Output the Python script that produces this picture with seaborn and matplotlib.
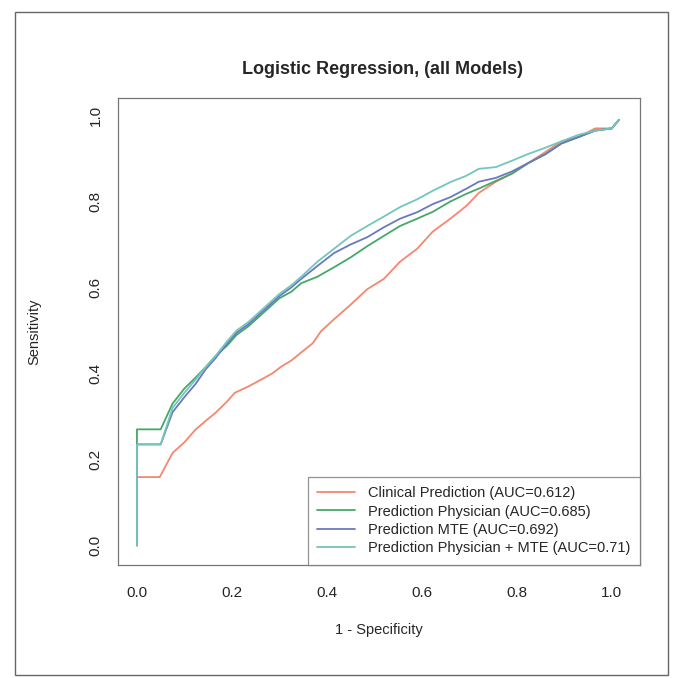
import matplotlib
matplotlib.use("Agg")
import matplotlib.pyplot as plt
from matplotlib.lines import Line2D
from matplotlib.patches import Rectangle
import seaborn as sns
import pandas as pd

# ROC points
fpr_clinical = [0, 0, 0.048, 0.075, 0.10, 0.123, 0.145, 0.165, 0.19, 0.206, 0.235, 0.262,
                0.285, 0.304, 0.325, 0.346, 0.37, 0.3875, 0.415, 0.45, 0.485, 0.52, 0.554,
                0.59, 0.623, 0.66, 0.694, 0.72, 0.756, 0.79, 0.825, 0.86, 0.894, 0.93,
                0.965, 1.0, 1.015]
tpr_clinical = [0, 0.159, 0.159, 0.215, 0.24, 0.269, 0.29, 0.308, 0.335, 0.355, 0.37, 0.386,
                0.40, 0.416, 0.43, 0.449, 0.47, 0.498, 0.526, 0.56, 0.596, 0.62, 0.66,
                0.69, 0.73, 0.76, 0.79, 0.82, 0.846, 0.865, 0.89, 0.915, 0.94, 0.95,
                0.97, 0.97, 0.99]

fpr_common = [0, 0, 0.05, 0.075, 0.10, 0.123, 0.145, 0.165, 0.19, 0.21, 0.235, 0.26, 0.28,
              0.30, 0.325, 0.346, 0.38, 0.415, 0.45, 0.485, 0.52, 0.554, 0.59, 0.623,
              0.66, 0.694, 0.72, 0.756, 0.79, 0.825, 0.86, 0.894, 0.93, 0.965, 1.0, 1.015]
tpr_physician = [0, 0.27, 0.27, 0.33, 0.365, 0.39, 0.415, 0.44, 0.465, 0.49, 0.51, 0.535, 0.555,
                 0.575, 0.59, 0.61, 0.625, 0.647, 0.67, 0.696, 0.72, 0.743, 0.76, 0.776,
                 0.80, 0.818, 0.83, 0.848, 0.865, 0.89, 0.91, 0.935, 0.95, 0.965, 0.97, 0.99]
tpr_mte = [0, 0.235, 0.235, 0.31, 0.345, 0.375, 0.41, 0.435, 0.47, 0.495, 0.515, 0.54, 0.56,
           0.58, 0.60, 0.62, 0.65, 0.68, 0.70, 0.717, 0.74, 0.76, 0.775, 0.794,
           0.81, 0.83, 0.846, 0.855, 0.87, 0.89, 0.91, 0.935, 0.95, 0.965, 0.97, 0.99]
tpr_phys_mte = [0, 0.235, 0.235, 0.32, 0.355, 0.385, 0.415, 0.44, 0.475, 0.50, 0.52, 0.545, 0.565,
                0.585, 0.605, 0.625, 0.66, 0.69, 0.72, 0.743, 0.765, 0.787, 0.805, 0.825,
                0.845, 0.86, 0.876, 0.88, 0.895, 0.911, 0.925, 0.94, 0.955, 0.965, 0.97, 0.99]

labels = ["Clinical Prediction (AUC=0.612)",
          "Prediction Physician (AUC=0.685)",
          "Prediction MTE (AUC=0.692)",
          "Prediction Physician + MTE (AUC=0.71)"]
colors = ["#F4876F", "#45A868", "#6A78C0", "#72C6BC"]

frames = []
for lab, xs, ys in zip(labels,
                       [fpr_clinical, fpr_common, fpr_common, fpr_common],
                       [tpr_clinical, tpr_physician, tpr_mte, tpr_phys_mte]):
    frames.append(pd.DataFrame({"fpr": xs, "tpr": ys, "model": lab}))
df = pd.concat(frames, ignore_index=True)

sns.set_style("white")
plt.rcParams["font.family"] = ["Liberation Sans", "DejaVu Sans"]

fig = plt.figure(figsize=(6.74, 6.78), dpi=100)
ax = fig.add_axes([0.175, 0.167, 0.775, 0.688])

for lab, col in zip(labels, colors):
    sub = df[df["model"] == lab]
    sns.lineplot(data=sub, x="fpr", y="tpr", color=col, sort=False, estimator=None,
                 lw=1.3, ax=ax)

ax.set_xlim(-0.04, 1.06)
ax.set_ylim(-0.045, 1.04)
ax.set_xticks([0, 0.2, 0.4, 0.6, 0.8, 1.0])
ax.set_yticks([0, 0.2, 0.4, 0.6, 0.8, 1.0])
ax.set_xticklabels(["0.0", "0.2", "0.4", "0.6", "0.8", "1.0"], fontsize=11)
ax.set_yticklabels(["0.0", "0.2", "0.4", "0.6", "0.8", "1.0"], fontsize=11,
                   rotation=90, va="center")
ax.tick_params(axis="x", direction="out", length=5, width=0.8, color="#777777", pad=10)
ax.tick_params(axis="y", direction="out", length=5, width=0.8, color="#777777", pad=6)
for s in ax.spines.values():
    s.set_color("#777777")
    s.set_linewidth(0.9)
ax.set_xlabel("1 - Specificity", fontsize=10.5, labelpad=17)
ax.set_ylabel("Sensitivity", fontsize=10.5, labelpad=34)

fig.text(0.568, 0.898, "Logistic Regression, (all Models)", ha="center", va="center",
         fontsize=13, fontweight="bold")

handles = [Line2D([0], [0], color=c, lw=1.3) for c in colors]
leg = ax.legend(handles, labels, loc="lower right", fontsize=10.5, frameon=True,
                fancybox=False, borderaxespad=0, handlelength=2.6, handletextpad=0.9,
                labelspacing=0.3, borderpad=0.65)
leg.get_frame().set_edgecolor("#777777")
leg.get_frame().set_linewidth(0.9)

# border of the scanned page
fig.patches.append(Rectangle((15 / 674, 1 - 675 / 678), 653 / 674, 663 / 678,
                             transform=fig.transFigure, fill=False,
                             edgecolor="#666666", lw=1.0))

fig.savefig("out.png", dpi=100)
